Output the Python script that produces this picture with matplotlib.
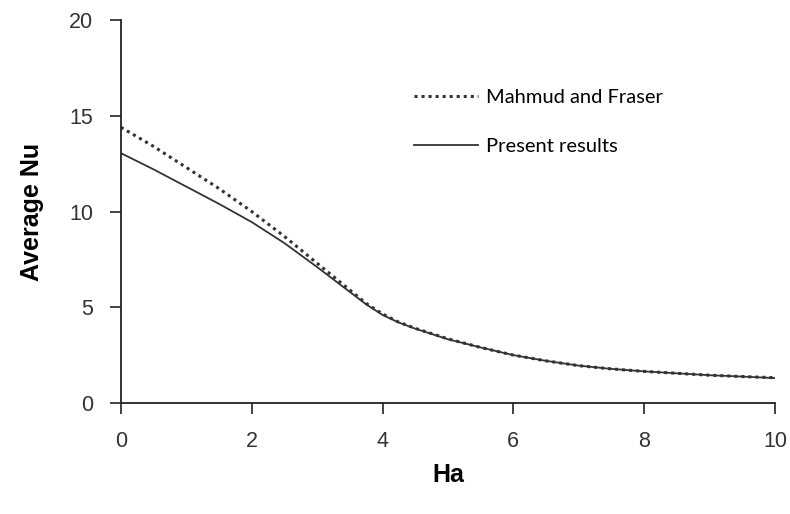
import numpy as np
import matplotlib.pyplot as plt

# Average Nusselt number vs Hartmann number
ha = [0, 0.5, 1, 1.5, 2, 2.5, 3, 3.25, 3.5, 3.75, 4, 4.25, 4.5, 5, 5.5, 6, 6.5,
      7, 7.5, 8, 8.5, 9, 9.5, 10]
nu_mahmud = [14.4, 13.4, 12.3, 11.2, 10.0, 8.7, 7.3, 6.6, 5.9, 5.2, 4.65, 4.22, 3.9,
             3.35, 2.9, 2.5, 2.2, 1.95, 1.78, 1.65, 1.55, 1.45, 1.38, 1.32]
nu_present = [13.05, 12.2, 11.3, 10.4, 9.45, 8.35, 7.1, 6.45, 5.8, 5.15, 4.6, 4.2, 3.88,
              3.33, 2.9, 2.5, 2.2, 1.95, 1.78, 1.65, 1.55, 1.45, 1.38, 1.30]

xticks = [0, 2, 4, 6, 8, 10]
yticks = [0, 5, 10, 15, 20]

plt.rcParams['font.family'] = ['Liberation Sans', 'DejaVu Sans']

fig = plt.figure(figsize=(7.9, 5.14), dpi=100)
ax = fig.add_axes([0.153, 0.216, 0.828, 0.745])

ax.plot(ha, nu_mahmud, color='#333333', linestyle=(0, (1, 1.3)), linewidth=2.2,
        label='Mahmud and Fraser')
ax.plot(ha, nu_present, color='#333333', linestyle='-', linewidth=1.3,
        label='Present results')

ax.set_xlim(0, 10)
ax.set_ylim(0, 20)
ax.set_xticks(xticks)
ax.set_yticks(yticks)

for s in ['top', 'right']:
    ax.spines[s].set_visible(False)
for s in ['left', 'bottom']:
    ax.spines[s].set_linewidth(1.3)
    ax.spines[s].set_color('#222222')

ax.tick_params(axis='both', direction='out', length=8, width=1.2, colors='#222222',
               labelsize=15.5, labelcolor='#333333')
ax.tick_params(axis='x', pad=12)
ax.tick_params(axis='y', pad=12)

ax.set_xlabel('Ha', fontsize=18, fontweight='bold', labelpad=8)
ax.set_ylabel('Average Nu', fontsize=18, fontweight='bold', labelpad=18)

leg = ax.legend(loc='upper left', bbox_to_anchor=(0.42, 0.868), frameon=False,
                prop={'family': 'Lato', 'size': 14.5}, handlelength=3.2,
                handletextpad=0.4, labelspacing=1.6)

fig.savefig('out.png', dpi=100)
